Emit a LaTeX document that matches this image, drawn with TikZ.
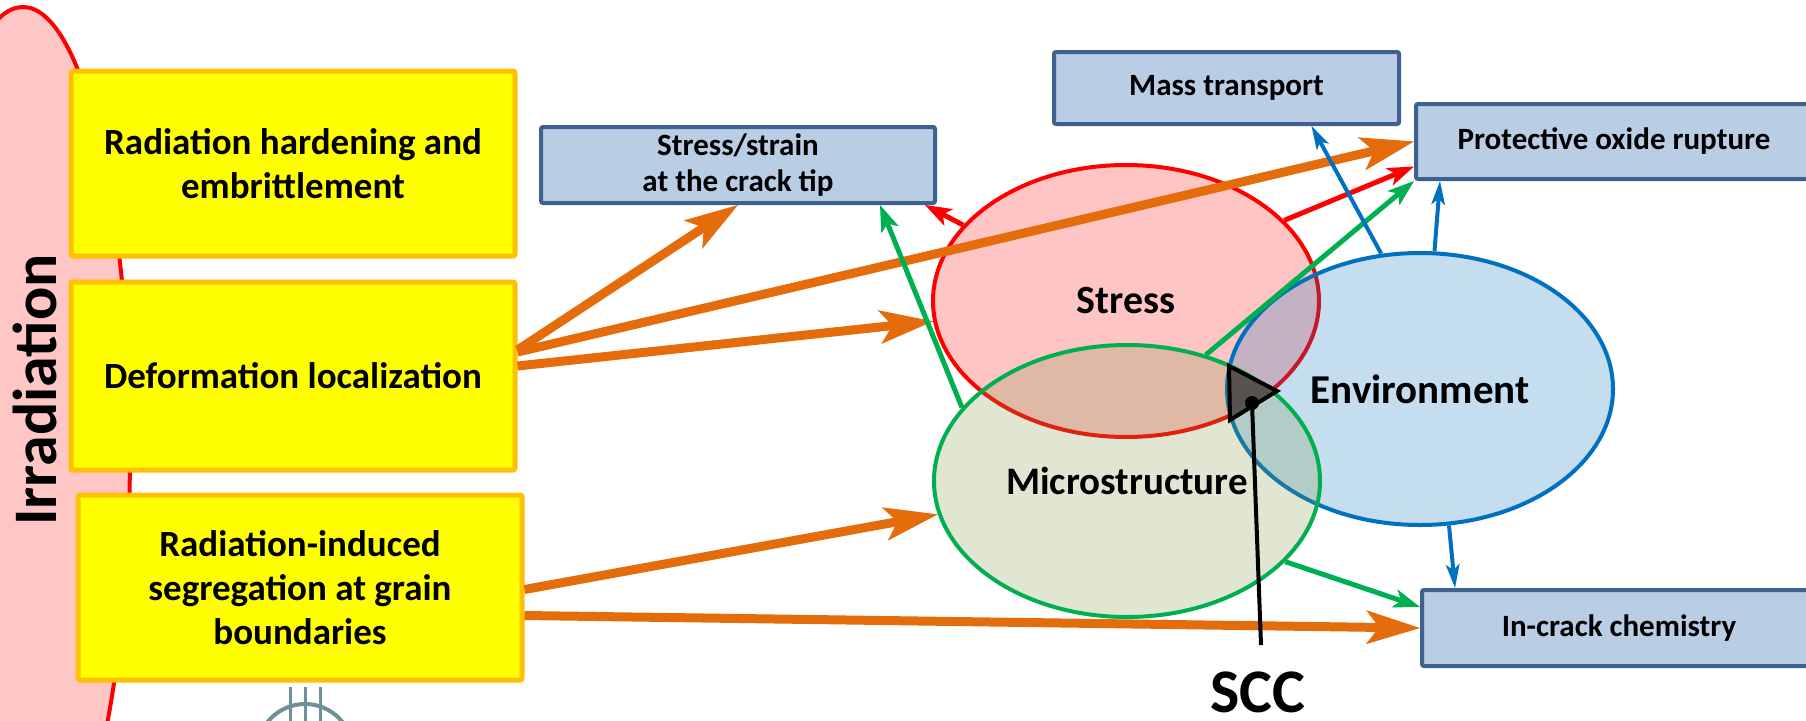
\documentclass[tikz,border=0pt]{standalone}
\usepackage{fontspec}
\setmainfont{Carlito}
\usetikzlibrary{arrows.meta,shapes.geometric}
\definecolor{yfill}{HTML}{FFFF00}
\definecolor{yborder}{HTML}{FFC000}
\definecolor{bfill}{HTML}{B9CDE5}
\definecolor{bborder}{HTML}{3E6190}
\definecolor{oarr}{HTML}{E46C0A}
\definecolor{rred}{HTML}{FF0000}
\definecolor{ggreen}{HTML}{00B050}
\definecolor{bblue}{HTML}{0070C0}
\definecolor{olivefill}{HTML}{77933C}
\definecolor{irrfill}{HTML}{FFC6C6}
\definecolor{sccgray}{HTML}{595350}
\definecolor{logoc}{HTML}{6F8F99}
\begin{document}
\begin{tikzpicture}[x=1pt,y=-1pt,
  ybox/.style={draw=yborder, fill=yfill, line width=5pt, inner sep=0pt, minimum width=444pt, align=center, font=\fontsize{37}{44}\selectfont\bfseries, rounded corners=2pt},
  bbox/.style={draw=bborder, fill=bfill, line width=4pt, inner sep=0pt, align=center, font=\fontsize{31}{36}\selectfont\bfseries, rounded corners=2pt},
  venn/.style={ellipse, inner sep=0pt, minimum width=386pt, minimum height=272pt, line width=4pt, fill opacity=0.23, text opacity=1, font=\fontsize{40}{48}\selectfont\bfseries},
  oarrow/.style={draw=oarr, line width=9pt, -{Stealth[length=54pt,width=34pt,inset=13pt,line width=0pt]}},
  rarrow/.style={draw=rred, line width=5pt, -{Stealth[length=27pt,width=19pt,inset=7pt,line width=0pt]}},
  garrow/.style={draw=ggreen, line width=5pt, -{Stealth[length=27pt,width=19pt,inset=7pt,line width=0pt]}},
  barrow/.style={draw=bblue, line width=4pt, -{Stealth[length=24pt,width=14pt,inset=6pt,line width=0pt]}}
]
\clip (0,0) rectangle (1806,720);
\useasboundingbox (0,0) rectangle (1806,720);

% irradiation
\draw[draw=rred, fill=irrfill, line width=4pt] (23,450) ellipse [x radius=107pt, y radius=443pt];
\node[rotate=90, font=\fontsize{62}{70}\selectfont\bfseries] (irr) at (35,390) {Irradiation};

% logo fragment
\draw[logoc, line width=4pt] (305,752) circle [radius=48pt];
\foreach \xx in {290,305,320} \draw[logoc, line width=3pt] (\xx,687) -- (\xx,722);

% yellow boxes
\node[ybox, minimum height=185pt] (rh) at (293,163.5) {Radiation hardening and\\embrittlement};
\node[ybox, minimum height=188pt] (dl) at (293,376) {Deformation localization};
\node[ybox, minimum height=185pt] (ris) at (300,587.5) {Radiation-induced\\segregation at grain\\boundaries};

% blue boxes
\node[bbox, minimum width=394pt, minimum height=76pt] (ss) at (738,165) {Stress/strain\\at the crack tip};
\node[bbox, minimum width=345pt, minimum height=72pt] (mt) at (1226.5,88) {Mass transport};
\node[bbox, minimum width=396pt, minimum height=75pt, anchor=west] (por) at (1414,141.5) {Protective oxide rupture};
\node[bbox, minimum width=394pt, minimum height=76pt, anchor=west] (icc) at (1420,628) {In-crack chemistry};

% venn
\node[venn, draw=rred, fill=rred] (st) at (1126,301) {Stress};
\node[venn, draw=bblue, fill=bblue, font=\fontsize{41}{48}\selectfont\bfseries] (en) at (1420,389) {Environment};
\node[venn, draw=ggreen, fill=olivefill, font=\fontsize{39}{48}\selectfont\bfseries] (mi) at (1127,481) {Microstructure};

% orange arrows
\draw[oarrow] ([yshift=26pt]dl.east) -- (ss.south);
\draw[oarrow] ([yshift=24pt]dl.east) -- (por.west);
\draw[oarrow] ([yshift=10pt]dl.east) -- (st.186);
\draw[oarrow] ([yshift=-2pt]ris.east) -- (mi.190);
\draw[oarrow] ([yshift=-28pt]ris.east) -- (icc.west);

% red arrows
\draw[rarrow] (st.155) -- ([xshift=-12pt]ss.south east);
\draw[rarrow] (st.27) -- ([yshift=-25pt]por.west);

% green arrows
\draw[garrow] (mi.156) -- ([xshift=142pt]ss.south);
\draw[garrow] (mi.58) -- (por.south west);
\draw[garrow] (mi.333) -- ([yshift=21pt]icc.west);

% blue arrows
\draw[barrow] (en.106) -- ([xshift=85pt]mt.south);
\draw[barrow] (en.84) -- ([xshift=26pt]por.south west);
\draw[barrow] (en.-78) -- ([xshift=35pt]icc.north west);

% SCC
\coordinate (t1) at (1229,366);
\coordinate (t2) at (1277,391);
\coordinate (t3) at (1230,420);
\draw[line width=4pt, fill=sccgray, line join=miter] (t1) -- (t2) -- (t3) -- cycle;
\coordinate (dot) at (1252,403);
\coordinate (sccend) at (1261,645);
\draw[line width=4pt] (dot) -- (sccend);
\fill (dot) circle [radius=7pt];
\node[font=\fontsize{62}{70}\selectfont\bfseries, inner sep=0pt] (scc) at (1258,692) {SCC};
\end{tikzpicture}
\end{document}
